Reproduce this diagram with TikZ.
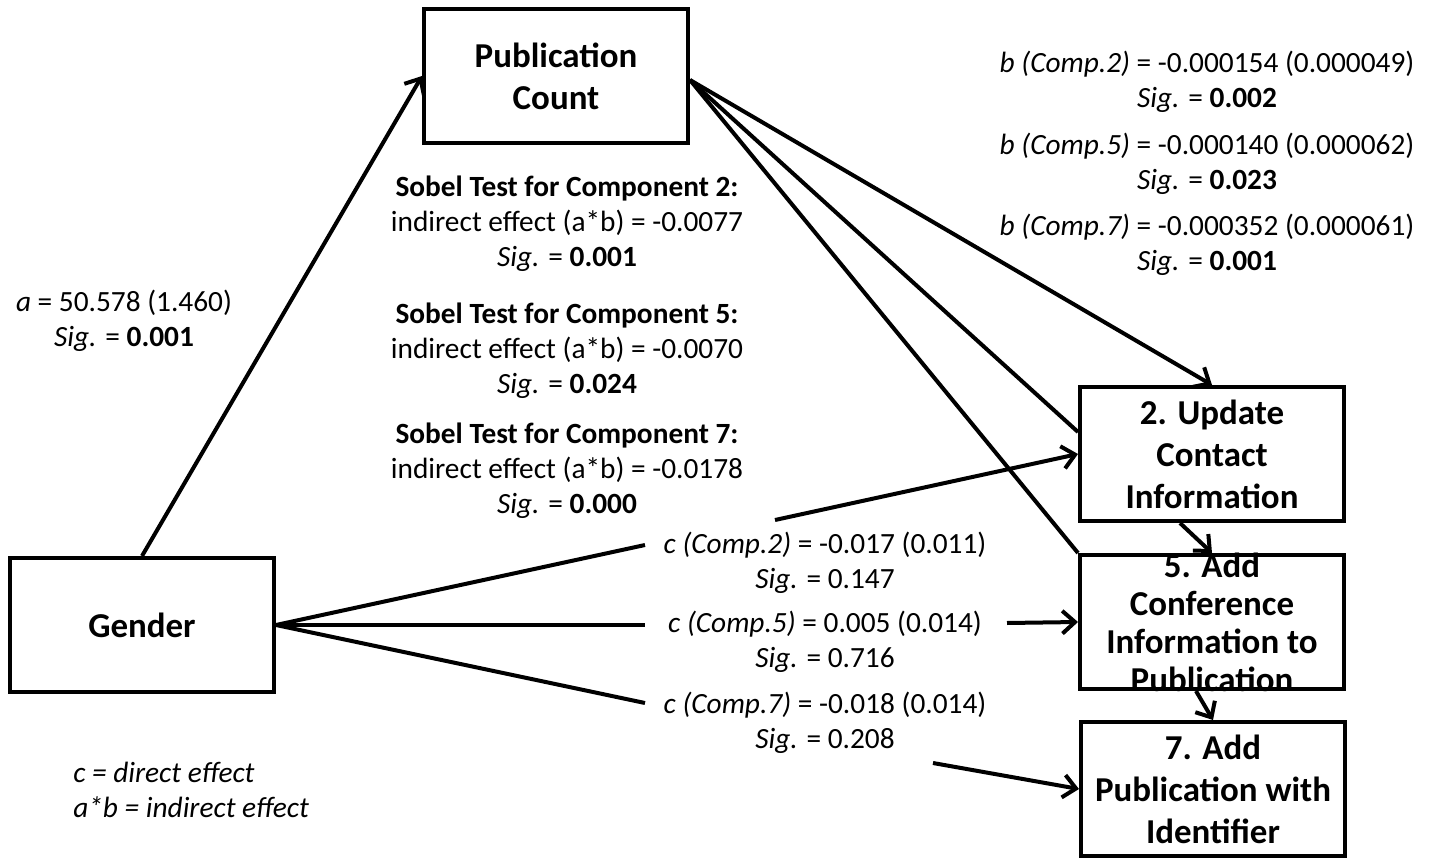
\documentclass[tikz,border=0pt]{standalone}
\usepackage{fontspec}
\setmainfont{Carlito}
\usetikzlibrary{arrows.meta}
\begin{document}
\begin{tikzpicture}[x=0.75pt,y=-0.75pt,
  box/.style={draw,line width=3pt,minimum width=198pt,minimum height=100.5pt,inner sep=0pt},
  boxtext/.style={font=\fontsize{26.2}{31.5}\selectfont\bfseries,align=center},
  lab/.style={font=\fontsize{22}{26.2}\selectfont,align=center,inner sep=0pt},
  conn/.style={line width=3pt},
  arr/.style={line width=3pt,-{Straight Barb[length=9.5pt,width=17pt,line width=3pt]}}]
\useasboundingbox (0,0) rectangle (1432,860);
% boxes
\node[box,label={[boxtext]center:Gender}] (g) at (142,625) {};
\node[box,label={[boxtext]center:Publication\\Count}] (pc) at (556,76) {};
\node[box,label={[boxtext]center:2. Update\\Contact\\Information}] (b2) at (1212,454) {};
\node[box,label={[boxtext,font=\fontsize{26.2}{28.5}\selectfont\bfseries]center:5. Add\\Conference\\Information to\\Publication}] (b5) at (1212,622) {};
\node[box,label={[boxtext]center:7. Add\\Publication with\\Identifier}] (b7) at (1213,789) {};
% labels
\node[lab] (la) at (124,321) {\textit{a} = 50.578 (1.460)\\\textit{Sig.} = \textbf{0.001}};
\node[lab] (lb2) at (1207,82) {\textit{b (Comp.2)} = -0.000154 (0.000049)\\\textit{Sig.} = \textbf{0.002}};
\node[lab] (lb5) at (1207,164) {\textit{b (Comp.5)} = -0.000140 (0.000062)\\\textit{Sig.} = \textbf{0.023}};
\node[lab] (lb7) at (1207,245) {\textit{b (Comp.7)} = -0.000352 (0.000061)\\\textit{Sig.} = \textbf{0.001}};
\node[lab] (s2) at (567,224) {\textbf{Sobel Test for Component 2:}\\indirect effect (a*b) = -0.0077\\\textit{Sig.} = \textbf{0.001}};
\node[lab] (s5) at (567,351) {\textbf{Sobel Test for Component 5:}\\indirect effect (a*b) = -0.0070\\\textit{Sig.} = \textbf{0.024}};
\node[lab] (s7) at (567,471) {\textbf{Sobel Test for Component 7:}\\indirect effect (a*b) = -0.0178\\\textit{Sig.} = \textbf{0.000}};
\node[lab] (c2) at (825,563) {\textit{c (Comp.2)} = -0.017 (0.011)\\\textit{Sig.} = 0.147};
\node[lab] (c5) at (825,642) {\textit{c (Comp.5)} = 0.005 (0.014)\\\textit{Sig.} = 0.716};
\node[lab] (c7) at (825,723) {\textit{c (Comp.7)} = -0.018 (0.014)\\\textit{Sig.} = 0.208};
\node[lab,align=left,anchor=west] (leg) at (73,790) {\textit{c = direct effect}\\\textit{a*b = indirect effect}};
% connectors
\coordinate (gx) at (g.east);
\coordinate (c2a) at (645,545);
\coordinate (c5a) at (645,625);
\coordinate (c7a) at (645,703);
\coordinate (c2b) at (775,520);
\coordinate (c5b) at (1007,623);
\coordinate (c7b) at (933,763);
\draw[arr] (g.north) -- (pc.west);
\draw[conn] (gx) -- (c2a);
\draw[conn] (gx) -- (c5a);
\draw[conn] (gx) -- (c7a);
\draw[arr] (c2b) -- (b2.west);
\draw[arr] (c5b) -- (b5.west);
\draw[arr] (c7b) -- (b7.west);
\coordinate (pcx) at ([yshift=-3pt]pc.east);
\draw[arr] (pcx) -- (b2.north);
\draw[conn] (pcx) -- ([yshift=16.5pt]b2.west);
\draw[conn] (pcx) -- (b5.north west);
\draw[arr] ([xshift=-24pt]b2.south) -- (b5.north);
\draw[arr] ([xshift=-12pt]b5.south) -- (b7.north);
\end{tikzpicture}
\end{document}
